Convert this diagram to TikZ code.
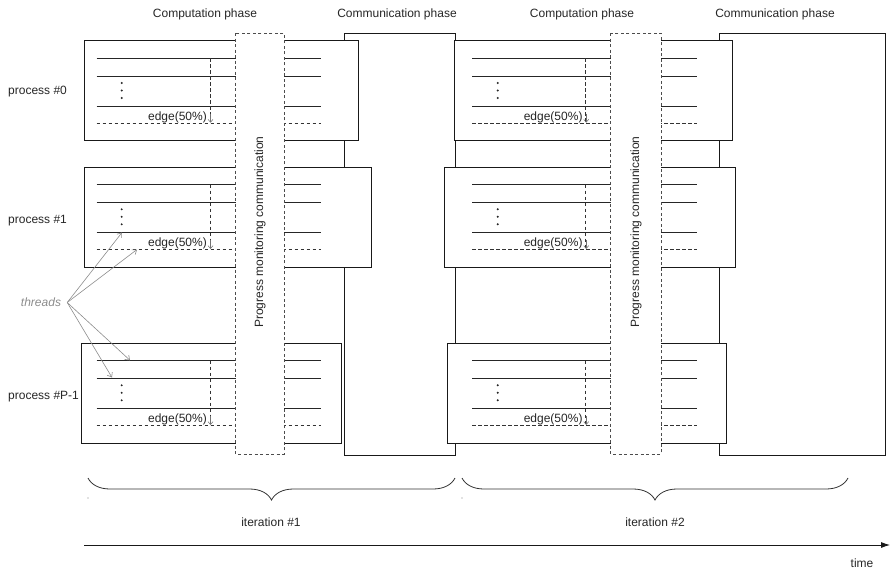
\documentclass[tikz,border=0pt]{standalone}
\usepackage{fontspec}
\setmainfont{Liberation Sans}
\usetikzlibrary{arrows.meta, decorations.pathreplacing}

\tikzset{
  lbl/.style={font=\fontsize{12}{14}\selectfont, text=black!85},
  procbox/.style={draw=black!90, fill=white, line width=0.8pt},
  commbox/.style={draw=black!90, fill=white, line width=0.8pt},
  progbox/.style={draw=black!70, fill=white, line width=0.8pt, dash pattern=on 3pt off 2.5pt},
  thread/.style={black!85, line width=0.8pt},
  edgeline/.style={black!80, line width=0.8pt, dash pattern=on 3.5pt off 2.5pt},
  pointer/.style={black!45, line width=0.6pt, -{Straight Barb[length=4pt, width=6pt]}},
}

\begin{document}
\begin{tikzpicture}[x=1pt, y=-1pt]
\useasboundingbox (0,0) rectangle (890,570);

% phase headings
\node[lbl] (comp1) at (205,14) {Computation phase};
\node[lbl] (comm1) at (397,14) {Communication phase};
\node[lbl] (comp2) at (582,14) {Computation phase};
\node[lbl] (comm2) at (775,14) {Communication phase};

% communication phases
\draw[commbox] (344,33) rectangle (455,455);
\draw[commbox] (719,33) rectangle (885,455);

% process boxes (left/top/right)
\foreach \l/\t/\r in {84/40.7/358, 84.3/167/371.7, 81.7/343/341.7,
                      454/40.7/732.7, 444/167/735, 447.3/343/726.7}
  \draw[procbox] (\l,\t) rectangle (\r,\t+100);

% threads inside each box (start/end/edge x/dots x)
\foreach \a/\b/\v/\d in {96.7/321/210/121.7, 472.3/696.7/585.7/497.7}
  \foreach \t in {40.7, 167, 343} {
    \draw[thread] (\a,\t+17.7) -- (\b,\t+17.7);
    \draw[thread] (\a,\t+35.3) -- (\b,\t+35.3);
    \draw[thread] (\a,\t+65.3) -- (\b,\t+65.3);
    \draw[edgeline] (\a,\t+82.7) -- (\b,\t+82.7);
    \draw[edgeline] (\v,\t+17.7) -- (\v,\t+82.7);
    \foreach \dy in {42.3, 49.8, 57.3}
      \fill[black!85] (\d,\t+\dy) circle [radius=1.1];
    \node[lbl, anchor=east, inner sep=0pt] at (\v-3,\t+76.5) {edge(50\%)};
    \draw[black!55, line width=0.5pt, -{Straight Barb[length=3pt, width=5pt]}] (\v+0.5,\t+73) -- (\v+0.5,\t+82);
  }

% progress monitoring (dashed)
\draw[progbox] (235.7,33) rectangle (284,454);
\draw[progbox] (610.7,33) rectangle (661,454);
\node[lbl, rotate=90] (prog1) at (260,232) {Progress monitoring communication};
\node[lbl, rotate=90] (prog2) at (636,232) {Progress monitoring communication};

% process names
\node[lbl, anchor=west, inner sep=0pt] (p0) at (8,91.7) {process \#0};
\node[lbl, anchor=west, inner sep=0pt] (p1) at (8,220.5) {process \#1};
\node[lbl, anchor=west, inner sep=0pt] (pP) at (8,396.5) {process \#P-1};

% threads pointers
\node[lbl, text=black!45, font=\fontsize{12}{14}\selectfont\itshape, inner sep=0pt] (threads) at (41,302.5) {threads};
\coordinate (t1) at (122,232.5);
\coordinate (t2) at (137,249.5);
\coordinate (t3) at (130,360.3);
\coordinate (t4) at (112,377.5);
\foreach \p in {t1,t2,t3,t4}
  \draw[pointer] ([xshift=6pt]threads.east) -- (\p);

% iterations
\draw[black!80, line width=0.8pt, decorate, decoration={brace, mirror, amplitude=22pt}] (88,478) -- (455,478);
\draw[black!80, line width=0.8pt, decorate, decoration={brace, mirror, amplitude=22pt}] (462,478) -- (848,478);
\fill[black!50] (88,498) circle [radius=0.7];
\fill[black!50] (462,498) circle [radius=0.7];
\node[lbl] (it1) at (271,522) {iteration \#1};
\node[lbl] (it2) at (655,522) {iteration \#2};

% time axis
\coordinate (t0) at (84,545);
\coordinate (tE) at (890,545);
\draw[black!90, line width=0.8pt, -{Latex[length=9pt, width=6pt]}] (t0) -- (tE);
\node[lbl] (time) at (862,563) {time};

\end{tikzpicture}
\end{document}
